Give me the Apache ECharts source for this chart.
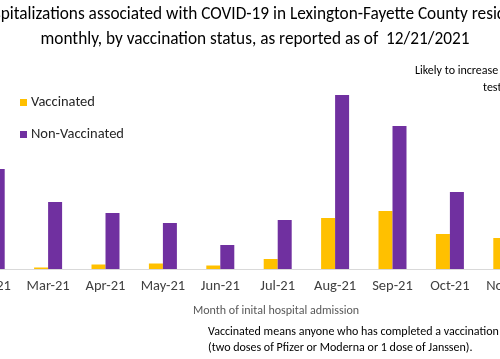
<!DOCTYPE html>
<html><head><meta charset="utf-8">
<script src="https://cdn.jsdelivr.net/npm/echarts@6/dist/echarts.min.js"></script>
<style>html,body{margin:0;padding:0;background:#fff;}
#wrap{position:relative;width:500px;height:359px;overflow:hidden;}
#c{position:absolute;left:-38px;top:0;width:640px;height:359px;}</style>
</head><body><div id="wrap"><div id="c"></div></div>
<script>
var categories = ['Feb-21','Mar-21','Apr-21','May-21','Jun-21','Jul-21','Aug-21','Sep-21','Oct-21','Nov-21'];
var vaccinated = [1, 1.5, 4.5, 5.5, 3.5, 10, 51, 58, 35, 31];
var nonVaccinated = [100, 67, 56, 46, 24, 49, 174, 143, 77, 60];
var FONT = 'Carlito, Lato, sans-serif';
var OX = 38; // offset of the chart canvas relative to the visible window
var chart = echarts.init(document.getElementById('c'));
chart.setOption({
  animation: false,
  textStyle: {fontFamily: FONT},
  title: {
    text: 'Hospitalizations associated with COVID-19 in Lexington-Fayette County residents\nmonthly, by vaccination status, as reported as of  12/21/2021',
    left: 250 + OX, textAlign: 'center', top: -3,
    textStyle: {fontFamily: FONT, fontSize: 17.3, fontWeight: 'normal', color: '#000', lineHeight: 25}
  },
  legend: {
    orient: 'vertical', left: 15 + OX, top: 90, itemWidth: 7, itemHeight: 7, itemGap: 17, icon: 'rect',
    textStyle: {fontFamily: FONT, fontSize: 14.5, color: '#262626', padding: [0,0,0,-1]},
    data: ['Vaccinated','Non-Vaccinated']
  },
  grid: {left: 0, width: 574, top: 69, bottom: 90, containLabel: false},
  xAxis: {
    type: 'category', data: categories,
    axisLine: {lineStyle: {color: '#d9d9d9', width: 1}},
    axisTick: {show: false},
    axisLabel: {fontFamily: FONT, fontSize: 14.5, color: '#404040', margin: 10, interval: 0}
  },
  yAxis: {type: 'value', min: 0, max: 200, show: false, splitLine: {show: false}},
  series: [
    {name: 'Vaccinated', type: 'bar', data: vaccinated, barWidth: 14, barGap: '0%', itemStyle: {color: '#FFC000'}},
    {name: 'Non-Vaccinated', type: 'bar', data: nonVaccinated, barWidth: 14, barGap: '0%', itemStyle: {color: '#7030A0'}}
  ],
  graphic: [
    {type: 'text', left: 193 + OX, top: 305, style: {text: 'Month of inital hospital admission', font: '12px ' + FONT, fill: '#595959'}},
    {type: 'text', left: 208 + OX, top: 324, style: {text: 'Vaccinated means anyone who has completed a vaccination series\n(two doses of Pfizer or Moderna or 1 dose of Janssen).', font: '12px ' + FONT, fill: '#000', lineHeight: 16}},
    {type: 'text', left: 415 + OX, top: 65, style: {text: 'Likely to increase as more', font: '12px ' + FONT, fill: '#000'}},
    {type: 'text', left: 483 + OX, top: 82, style: {text: 'test results come in', font: '12px ' + FONT, fill: '#000'}}
  ]
});
</script></body></html>
